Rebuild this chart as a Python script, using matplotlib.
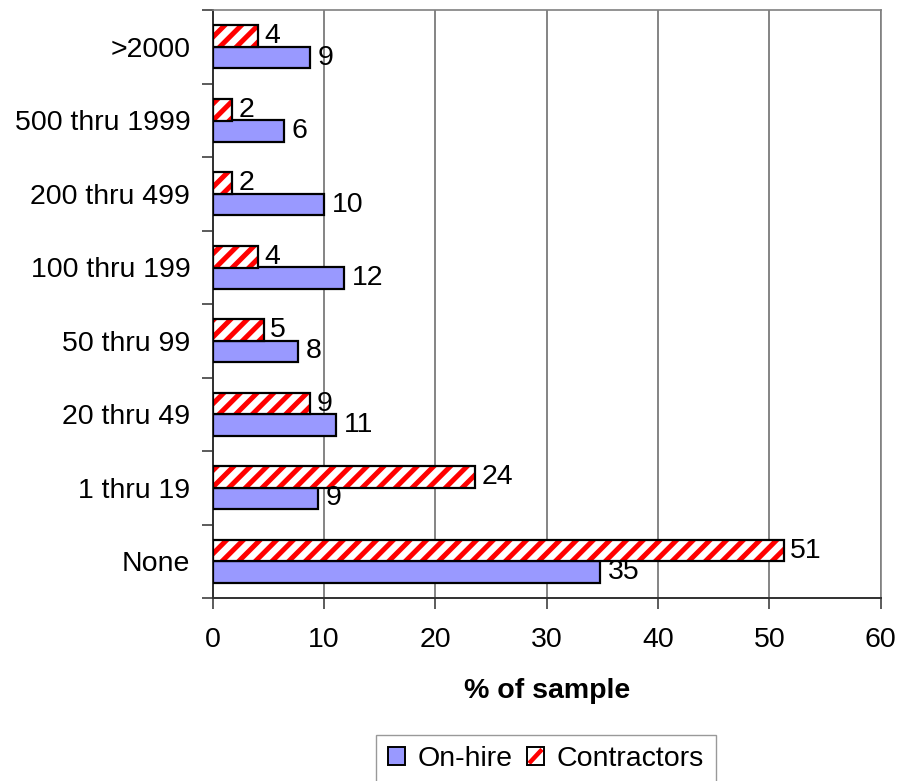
import matplotlib
matplotlib.use("Agg")
import matplotlib.pyplot as plt
import numpy as np
from matplotlib.patches import Patch, Rectangle
from matplotlib.lines import Line2D
from matplotlib.legend_handler import HandlerBase

# Employee-size bands (bottom to top) and share of sample in each
categories = ["None", "1 thru 19", "20 thru 49", "50 thru 99",
              "100 thru 199", "200 thru 499", "500 thru 1999", ">2000"]
on_hire = [34.8, 9.45, 11.1, 7.7, 11.8, 10.0, 6.4, 8.75]
contractors = [51.3, 23.6, 8.75, 4.6, 4.1, 1.75, 1.75, 4.1]
x_ticks = [0, 10, 20, 30, 40, 50, 60]

BLUE = "#9999FF"
RED = "#FF0000"
FS = 20.5

plt.rcParams["font.family"] = ["Liberation Sans", "DejaVu Sans"]
plt.rcParams["hatch.linewidth"] = 3.6


class StripedSquare(HandlerBase):
    """Legend key: white square with one red diagonal stripe and a black border."""

    def create_artists(self, legend, orig_handle, xdescent, ydescent,
                       width, height, fontsize, trans):
        x0, y0 = -xdescent, -ydescent
        fill = Rectangle((x0, y0), width, height, facecolor="white",
                         edgecolor="none", transform=trans)
        stripe = Line2D([x0 + 1.5, x0 + width - 1.5],
                        [y0 + 1.5, y0 + height - 1.5],
                        color=RED, linewidth=3.2, solid_capstyle="butt",
                        transform=trans)
        border = Rectangle((x0, y0), width, height, fill=False,
                           edgecolor="black", linewidth=1.4, transform=trans)
        return [fill, stripe, border]


fig = plt.figure(figsize=(8.97, 7.81), dpi=100)
ax = fig.add_axes([0.237, 0.2343, 0.745, 0.7527])

y = np.arange(len(categories))
h = 0.295
off = 0.145

bars_on = ax.barh(y - off, on_hire, height=h, color=BLUE,
                  edgecolor="black", linewidth=1.6, zorder=3)
# contractors: red hatch layer plus black outline on top
ax.barh(y + off, contractors, height=h, color="white",
        edgecolor=RED, hatch="//", linewidth=0, zorder=3)
bars_ct = ax.barh(y + off, contractors, height=h, fill=False,
                  edgecolor="black", linewidth=1.6, zorder=4)

ax.bar_label(bars_on, fmt="{:.0f}", padding=5.5, fontsize=FS)
ax.bar_label(bars_ct, fmt="{:.0f}", padding=4.5, fontsize=FS)

ax.set_xlim(0, 60)
ax.set_ylim(-0.5, len(categories) - 0.5)
ax.set_xticks(x_ticks)
ax.set_xticklabels([str(v) for v in x_ticks], fontsize=FS)
ax.tick_params(axis="x", length=8, width=1.2, pad=13, color="#404040")

ax.set_yticks(y)
ax.set_yticklabels(categories, fontsize=FS)
ax.tick_params(axis="y", which="major", length=0, pad=16)
ax.set_yticks(np.arange(-0.5, len(categories)), minor=True)
ax.tick_params(axis="y", which="minor", length=8, width=1.2, color="#404040")

ax.grid(axis="x", color="#707070", linewidth=1.2, zorder=0)
ax.set_axisbelow(True)
for side in ("top", "right"):
    ax.spines[side].set_color("#808080")
    ax.spines[side].set_linewidth(1.2)
for side in ("left", "bottom"):
    ax.spines[side].set_color("#303030")
    ax.spines[side].set_linewidth(1.4)

ax.set_xlabel("% of sample", fontsize=FS, fontweight="bold", labelpad=18)

h_on = Patch(facecolor=BLUE, edgecolor="black", linewidth=1.4)
h_ct = Patch(facecolor="white", edgecolor="black")
leg = fig.legend([h_on, h_ct], ["On-hire", "Contractors"],
                 handler_map={h_ct: StripedSquare()},
                 loc="upper center", bbox_to_anchor=(546 / 897, 1 - 735 / 781),
                 ncol=2, fontsize=FS, frameon=True, fancybox=False,
                 edgecolor="#808080", handlelength=0.6, handleheight=0.6,
                 handletextpad=0.45, columnspacing=0.5, borderpad=0.4,
                 borderaxespad=0)
leg.get_frame().set_linewidth(1.0)

fig.savefig("out.png", dpi=100)
